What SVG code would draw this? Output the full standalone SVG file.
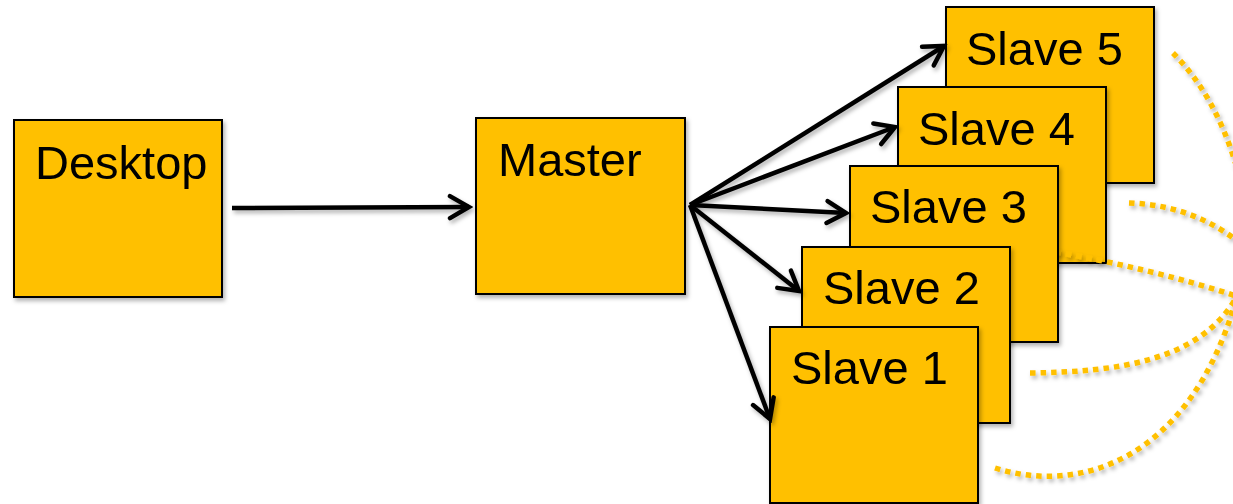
<svg xmlns="http://www.w3.org/2000/svg" width="1233" height="504" viewBox="0 0 1233 504">
  <style>
    .box { fill: #FFC000; stroke: #000; stroke-width: 2; }
    .lbl { font-family: "Liberation Sans", Arial, sans-serif; font-size: 47px; fill: #000; }
    .conn { fill: none; stroke: #000; stroke-width: 4.5; }
    .dots { fill: none; stroke: #FFC000; stroke-width: 5.5; stroke-dasharray: 5.5 5; }
  </style>
  <defs>
    <filter id="sh" x="-10%" y="-10%" width="130%" height="130%">
      <feDropShadow dx="2" dy="3" stdDeviation="2" flood-color="#000" flood-opacity="0.3"/>
    </filter>
    <marker id="arr" markerUnits="userSpaceOnUse" viewBox="-24 -15 28 30" markerWidth="28" markerHeight="30" refX="0" refY="0" orient="auto">
      <path d="M-19,-11 L0,0 L-19,11" fill="none" stroke="#000" stroke-width="4.5" stroke-linecap="round" stroke-linejoin="miter"/>
    </marker>
  </defs>

  <g id="desktop" filter="url(#sh)">
    <rect class="box" x="14" y="120" width="208" height="177"/>
    <text class="lbl" x="35" y="179">Desktop</text>
  </g>
  <g id="master" filter="url(#sh)">
    <rect class="box" x="476" y="118" width="209" height="176"/>
    <text class="lbl" x="498" y="176">Master</text>
  </g>
  <g id="slave5" filter="url(#sh)">
    <rect class="box" x="946" y="7" width="208" height="176"/>
    <text class="lbl" x="966" y="65">Slave 5</text>
  </g>
  <g id="slave4" filter="url(#sh)">
    <rect class="box" x="898" y="87" width="208" height="176"/>
    <text class="lbl" x="918" y="145">Slave 4</text>
  </g>
  <g id="decor" filter="url(#sh)">
    <path class="dots" d="M1173,53 Q1215,95 1236,165"/>
    <path class="dots" d="M1129,203 Q1190,205 1236,240"/>
    <path class="dots" d="M1045,250 Q1150,268 1236,296"/>
    <path class="dots" d="M1030,373 C1120,372 1200,360 1236,298"/>
    <path class="dots" d="M995,468 C1080,495 1190,460 1236,300"/>
  </g>
  <g id="slave3" filter="url(#sh)">
    <rect class="box" x="850" y="166" width="208" height="176"/>
    <text class="lbl" x="870" y="223">Slave 3</text>
  </g>
  <g id="slave2" filter="url(#sh)">
    <rect class="box" x="802" y="247" width="208" height="176"/>
    <text class="lbl" x="823" y="304">Slave 2</text>
  </g>
  <g id="slave1" filter="url(#sh)">
    <rect class="box" x="770" y="327" width="208" height="176"/>
    <text class="lbl" x="791" y="384">Slave 1</text>
  </g>

  <g id="connectors" filter="url(#sh)">
    <line class="conn" x1="232" y1="208" x2="469" y2="207" marker-end="url(#arr)"/>
    <line class="conn" x1="690" y1="205" x2="944" y2="46" marker-end="url(#arr)"/>
    <line class="conn" x1="690" y1="205" x2="895" y2="127" marker-end="url(#arr)"/>
    <line class="conn" x1="690" y1="205" x2="846" y2="213" marker-end="url(#arr)"/>
    <line class="conn" x1="690" y1="205" x2="799" y2="291" marker-end="url(#arr)"/>
    <line class="conn" x1="690" y1="205" x2="770" y2="419" marker-end="url(#arr)"/>
  </g>
</svg>
